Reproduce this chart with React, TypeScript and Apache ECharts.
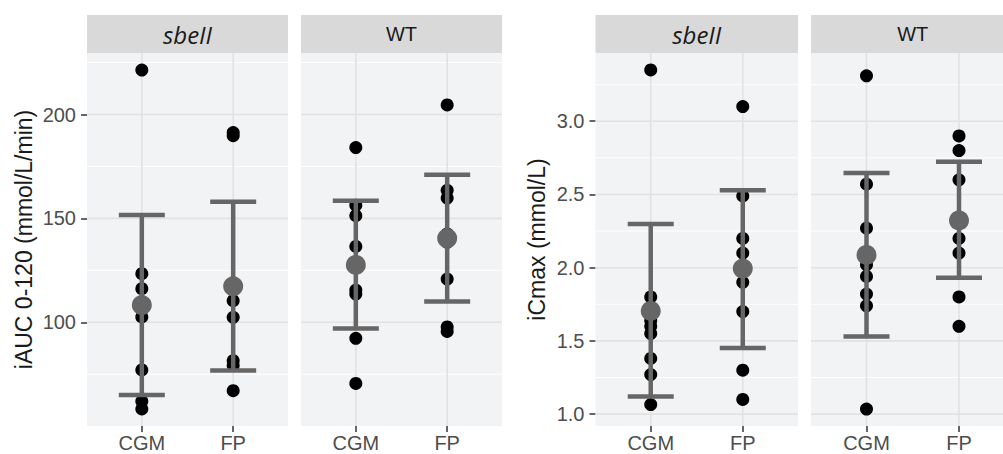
import React, { useEffect, useRef } from 'react';
import * as echarts from 'echarts';

const categories = ['CGM', 'FP'];
const facets = ['sbeII', 'WT'];

// iAUC 0-120 (mmol/L/min) — individual values
const iaucSbeIICGM = [221.4, 123.4, 116.2, 102.6, 77.1, 62.0, 58.3];
const iaucSbeIIFP = [191.3, 189.8, 110.4, 102.4, 81.5, 79.2, 67.1];
const iaucWTCGM = [184.1, 156.3, 151.3, 136.5, 115.5, 113.6, 92.3, 70.6];
const iaucWTFP = [204.6, 163.5, 159.8, 142.5, 138.5, 120.8, 97.8, 95.6];
// mean and mean ± SD (CGM, FP)
const iaucMeanSbeII = [108.3, 117.3];
const iaucLowerSbeII = [65.0, 76.8];
const iaucUpperSbeII = [151.6, 158.0];
const iaucMeanWT = [127.6, 140.4];
const iaucLowerWT = [97.0, 110.0];
const iaucUpperWT = [158.5, 171.0];

// iCmax (mmol/L) — individual values
const icmaxSbeIICGM = [3.35, 1.8, 1.64, 1.6, 1.55, 1.38, 1.27, 1.065];
const icmaxSbeIIFP = [3.1, 2.49, 2.2, 2.1, 1.9, 1.7, 1.3, 1.1];
const icmaxWTCGM = [3.31, 2.57, 2.27, 2.02, 1.94, 1.82, 1.74, 1.035];
const icmaxWTFP = [2.9, 2.8, 2.6, 2.2, 2.1, 1.8, 1.6];
const icmaxMeanSbeII = [1.705, 1.994];
const icmaxLowerSbeII = [1.121, 1.451];
const icmaxUpperSbeII = [2.298, 2.528];
const icmaxMeanWT = [2.087, 2.323];
const icmaxLowerWT = [1.53, 1.932];
const icmaxUpperWT = [2.647, 2.723];

// axis ticks
const iaucTicks = [100, 150, 200];
const iaucMinor = [75, 125, 175, 225];
const iaucRange = [50.1, 229.6];
const icmaxTicks = [1.0, 1.5, 2.0, 2.5, 3.0];
const icmaxMinor = [1.25, 1.75, 2.25, 2.75, 3.25];
const icmaxRange = [0.919, 3.466];

const FONT = '"Liberation Sans", Arial, sans-serif';
const TOP = 53;
const HEIGHT = 373;
const STRIP_TOP = 15;
const STRIP_H = 38;
const GRAY = '#666666';

const panels = [
  { left: 87, width: 201, facet: 0, metric: 'iauc', first: true, cgm: iaucSbeIICGM, fp: iaucSbeIIFP, mean: iaucMeanSbeII, lower: iaucLowerSbeII, upper: iaucUpperSbeII },
  { left: 301, width: 201, facet: 1, metric: 'iauc', first: false, cgm: iaucWTCGM, fp: iaucWTFP, mean: iaucMeanWT, lower: iaucLowerWT, upper: iaucUpperWT },
  { left: 595.5, width: 202.5, facet: 0, metric: 'icmax', first: true, cgm: icmaxSbeIICGM, fp: icmaxSbeIIFP, mean: icmaxMeanSbeII, lower: icmaxLowerSbeII, upper: icmaxUpperSbeII },
  { left: 811, width: 203.5, facet: 1, metric: 'icmax', first: false, cgm: icmaxWTCGM, fp: icmaxWTFP, mean: icmaxMeanWT, lower: icmaxLowerWT, upper: icmaxUpperWT },
];

function buildOption() {
  const grid: any[] = [];
  const xAxis: any[] = [];
  const yAxis: any[] = [];
  const series: any[] = [];
  const graphic: any[] = [];

  panels.forEach((p, i) => {
    const isI = p.metric === 'iauc';
    const ticks = isI ? iaucTicks : icmaxTicks;
    const minor = isI ? iaucMinor : icmaxMinor;
    const range = isI ? iaucRange : icmaxRange;

    grid.push({
      left: p.left, top: TOP, width: p.width, height: HEIGHT,
      show: true, backgroundColor: '#f2f3f5', borderWidth: 0,
      containLabel: false, outerBoundsMode: 'none',
    });

    xAxis.push({
      type: 'value', gridIndex: i, min: 0.4, max: 2.6,
      axisLine: { show: false },
      axisTick: { show: true, customValues: [1, 2], length: 6, lineStyle: { color: '#333333', width: 1.5 } },
      axisLabel: {
        show: true, customValues: [1, 2], margin: 7, fontSize: 20, lineHeight: 20, color: '#4d4d4d', fontFamily: FONT,
        formatter: (v: number) => categories[Math.round(v) - 1] ?? '',
      },
      splitLine: { show: false },
    });

    yAxis.push({
      type: 'value', gridIndex: i, min: range[0], max: range[1],
      axisLine: { show: false },
      axisTick: { show: p.first, customValues: ticks, length: 6, lineStyle: { color: '#333333', width: 1.5 } },
      axisLabel: {
        show: p.first, customValues: ticks, margin: 11, fontSize: 20, color: '#4d4d4d', fontFamily: FONT,
        formatter: (v: number) => (isI ? String(Math.round(v)) : v.toFixed(1)),
      },
      splitLine: { show: false },
      name: p.first ? (isI ? 'iAUC 0-120 (mmol/L/min)' : 'iCmax (mmol/L)') : '',
      nameLocation: 'middle',
      nameRotate: 90,
      nameGap: isI ? 52 : 47,
      nameTextStyle: { fontSize: 23, color: '#1a1a1a', fontFamily: FONT },
    });

    // horizontal grid lines
    const hData = ticks.map((v) => [1, v, 1]).concat(minor.map((v) => [1, v, 0]));
    series.push({
      type: 'custom', xAxisIndex: i, yAxisIndex: i, silent: true, z: 1,
      data: hData,
      renderItem: (params: any, api: any) => {
        const cs = params.coordSys;
        const y = api.coord([1, api.value(1)])[1];
        const major = api.value(2) === 1;
        return {
          type: 'line',
          shape: { x1: cs.x, y1: y, x2: cs.x + cs.width, y2: y },
          style: { stroke: major ? '#e2e2e2' : '#ffffff', lineWidth: major ? 1.6 : 1 },
        };
      },
    });
    // vertical grid lines at categories
    series.push({
      type: 'custom', xAxisIndex: i, yAxisIndex: i, silent: true, z: 1,
      data: categories.map((_, k) => [k + 1, range[0]]),
      renderItem: (params: any, api: any) => {
        const cs = params.coordSys;
        const x = api.coord([api.value(0), range[0]])[0];
        return {
          type: 'line',
          shape: { x1: x, y1: cs.y, x2: x, y2: cs.y + cs.height },
          style: { stroke: '#e2e2e2', lineWidth: 1.6 },
        };
      },
    });

    // individual points
    const pts = p.cgm.map((v) => [1, v]).concat(p.fp.map((v) => [2, v]));
    series.push({
      type: 'scatter', xAxisIndex: i, yAxisIndex: i, z: 3, silent: true,
      symbol: 'circle', symbolSize: 13,
      itemStyle: { color: '#000000', opacity: 1 },
      data: pts,
    });

    // error bars (mean ± SD)
    series.push({
      type: 'custom', xAxisIndex: i, yAxisIndex: i, z: 4, silent: true,
      data: categories.map((_, k) => [k + 1, p.lower[k], p.upper[k]]),
      renderItem: (params: any, api: any) => {
        const x = api.value(0);
        const lo = api.coord([x, api.value(1)]);
        const hi = api.coord([x, api.value(2)]);
        const hw = 23;
        const st = { stroke: GRAY, lineWidth: 4.5 };
        return {
          type: 'group',
          children: [
            { type: 'line', shape: { x1: lo[0], y1: lo[1], x2: hi[0], y2: hi[1] }, style: st },
            { type: 'line', shape: { x1: hi[0] - hw, y1: hi[1], x2: hi[0] + hw, y2: hi[1] }, style: st },
            { type: 'line', shape: { x1: lo[0] - hw, y1: lo[1], x2: lo[0] + hw, y2: lo[1] }, style: st },
          ],
        };
      },
    });

    // means
    series.push({
      type: 'scatter', xAxisIndex: i, yAxisIndex: i, z: 5, silent: true,
      symbol: 'circle', symbolSize: 20,
      itemStyle: { color: GRAY, opacity: 1 },
      data: categories.map((_, k) => [k + 1, p.mean[k]]),
    });

    // facet strip
    graphic.push({
      type: 'rect', silent: true, z: 0,
      shape: { x: p.left, y: STRIP_TOP, width: p.width, height: STRIP_H },
      style: { fill: '#d9d9d9' },
    });
    const italic = p.facet === 0;
    graphic.push({
      type: 'text', silent: true, z: 1,
      x: p.left + p.width / 2, y: STRIP_TOP + STRIP_H / 2,
      style: {
        text: facets[p.facet],
        fill: '#1a1a1a',
        fontSize: italic ? 24 : 20,
        fontStyle: italic ? 'italic' : 'normal',
        fontFamily: italic ? '"Open Sans", sans-serif' : FONT,
        textAlign: 'center',
        textVerticalAlign: 'middle',
      },
    });
  });

  return { animation: false, backgroundColor: '#ffffff', grid, xAxis, yAxis, series, graphic };
}

export default function App() {
  const ref = useRef<HTMLDivElement>(null);
  useEffect(() => {
    if (!ref.current) return;
    const chart = echarts.init(ref.current, null, { renderer: 'svg' });
    chart.setOption(buildOption() as any);
    return () => chart.dispose();
  }, []);
  return <div ref={ref} style={{ position: 'absolute', left: 0, top: 0, width: 1003, height: 454 }} />;
}
